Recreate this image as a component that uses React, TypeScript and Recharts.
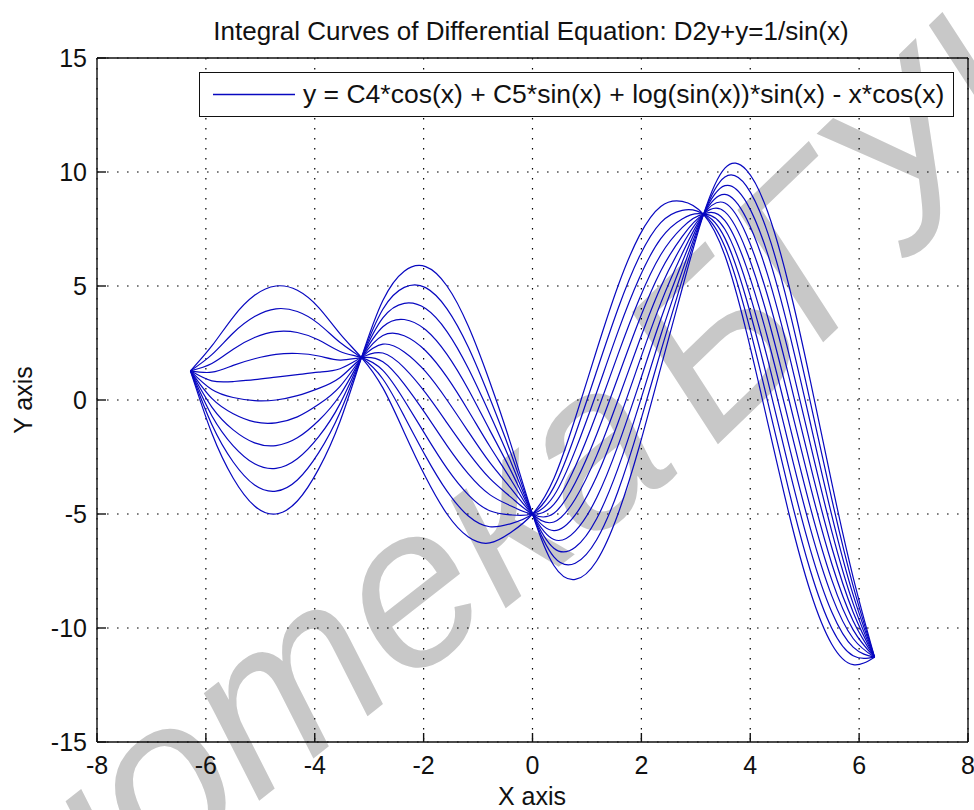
import React from 'react';
import { LineChart, Line, XAxis, YAxis, CartesianGrid, Legend } from 'recharts';

// x positions of the sampled points (multiples of pi/8 from -2pi to 2pi)
const xValues = [
  -6.2832, -5.8905, -5.4978, -5.1051, -4.7124, -4.3197, -3.927, -3.5343, -3.1416,
  -2.7489, -2.3562, -1.9635, -1.5708, -1.1781, -0.7854, -0.3927, 0,
  0.3927, 0.7854, 1.1781, 1.5708, 1.9635, 2.3562, 2.7489, 3.1416,
  3.5343, 3.927, 4.3197, 4.7124, 5.1051, 5.4978, 5.8905, 6.2832,
];

// one integral curve per value of C5 (C4 = -5)
const curveC5m5 = [1.28, -1.46, -3.43, -4.65, -5, -4.43, -3.02, -0.93, 1.86, 4.36, 5.65, 5.85, 5, 3.23, 0.8, -1.98, -5, -7.26, -7.87, -7.06, -5, -2.03, 1.42, 4.88, 8.14, 10.17, 10.09, 8.26, 5, 0.83, -3.64, -7.78, -11.28];
const curveC5m4 = [1.28, -1.08, -2.72, -3.73, -4, -3.51, -2.31, -0.54, 1.86, 3.98, 4.94, 4.93, 4, 2.31, 0.09, -2.36, -5, -6.88, -7.16, -6.13, -4, -1.1, 2.13, 5.26, 8.14, 9.78, 9.39, 7.34, 4, -0.1, -4.35, -8.16, -11.28];
const curveC5m3 = [1.28, -0.69, -2.01, -2.8, -3, -2.58, -1.61, -0.16, 1.86, 3.6, 4.24, 4.01, 3, 1.38, -0.61, -2.74, -5, -6.5, -6.46, -5.21, -3, -0.18, 2.84, 5.64, 8.14, 9.4, 8.68, 6.41, 3, -1.02, -5.06, -8.55, -11.28];
const curveC5m2 = [1.28, -0.31, -1.31, -1.88, -2, -1.66, -0.9, 0.22, 1.86, 3.21, 3.53, 3.08, 2, 0.46, -1.32, -3.12, -5, -6.12, -5.75, -4.29, -2, 0.74, 3.54, 6.03, 8.14, 9.02, 7.97, 5.49, 2, -1.95, -5.76, -8.93, -11.28];
const curveC5m1 = [1.28, 0.07, -0.6, -0.96, -1, -0.74, -0.19, 0.6, 1.86, 2.83, 2.82, 2.16, 1, -0.47, -2.03, -3.51, -5, -5.73, -5.04, -3.36, -1, 1.67, 4.25, 6.41, 8.14, 8.64, 7.26, 4.56, 1, -2.87, -6.47, -9.31, -11.28];
const curveC5p0 = [1.28, 0.46, 0.11, -0.03, 0, 0.19, 0.51, 0.99, 1.86, 2.45, 2.11, 1.24, 0, -1.39, -2.74, -3.89, -5, -5.35, -4.34, -2.44, 0, 2.59, 4.96, 6.79, 8.14, 8.25, 6.56, 3.64, 0, -3.79, -7.18, -9.69, -11.28];
const curveC5p1 = [1.28, 0.84, 0.81, 0.89, 1, 1.11, 1.22, 1.37, 1.86, 2.06, 1.41, 0.31, -1, -2.31, -3.44, -4.27, -5, -4.97, -3.63, -1.51, 1, 3.52, 5.66, 7.17, 8.14, 7.87, 5.85, 2.72, -1, -4.72, -7.89, -10.08, -11.28];
const curveC5p2 = [1.28, 1.22, 1.52, 1.81, 2, 2.04, 1.93, 1.75, 1.86, 1.68, 0.7, -0.61, -2, -3.24, -4.15, -4.65, -5, -4.58, -2.92, -0.59, 2, 4.44, 6.37, 7.56, 8.14, 7.49, 5.14, 1.79, -2, -5.64, -8.59, -10.46, -11.28];
const curveC5p3 = [1.28, 1.6, 2.23, 2.74, 3, 2.96, 2.63, 2.13, 1.86, 1.3, -0.01, -1.54, -3, -4.16, -4.86, -5.04, -5, -4.2, -2.21, 0.33, 3, 5.36, 7.08, 7.94, 8.14, 7.1, 4.44, 0.87, -3, -6.57, -9.3, -10.84, -11.28];
const curveC5p4 = [1.28, 1.99, 2.94, 3.66, 4, 3.88, 3.34, 2.52, 1.86, 0.92, -0.71, -2.46, -4, -5.09, -5.56, -5.42, -5, -3.82, -1.51, 1.26, 4, 6.29, 7.78, 8.32, 8.14, 6.72, 3.73, -0.06, -4, -7.49, -10.01, -11.22, -11.28];
const curveC5p5 = [1.28, 2.37, 3.64, 4.59, 5, 4.81, 4.05, 2.9, 1.86, 0.53, -1.42, -3.38, -5, -6.01, -6.27, -5.8, -5, -3.44, -0.8, 2.18, 5, 7.21, 8.49, 8.71, 8.14, 6.34, 3.02, -0.98, -5, -8.41, -10.71, -11.61, -11.28];

const curves = [curveC5m5, curveC5m4, curveC5m3, curveC5m2, curveC5m1, curveC5p0, curveC5p1, curveC5p2, curveC5p3, curveC5p4, curveC5p5];

const xTicks = [-8, -6, -4, -2, 0, 2, 4, 6, 8];
const yTicks = [-15, -10, -5, 0, 5, 10, 15];

const titleText = 'Integral Curves of Differential Equation: D2y+y=1/sin(x)';
const legendText = 'y = C4*cos(x) + C5*sin(x) + log(sin(x))*sin(x) - x*cos(x)';
const xLabelText = 'X axis';
const yLabelText = 'Y axis';
const watermarkWord1 = 'Библиотека';
const watermarkWord2 = 'БГУИР';

const data = xValues.map((x, i) => {
  const row: Record<string, number> = { x };
  curves.forEach((c, j) => {
    row['c' + j] = c[i];
  });
  return row;
});

const FONT = '"Liberation Sans", Arial, Helvetica, sans-serif';
const LINE_COLOR = '#0808c0';
const TEXT_COLOR = '#111';
const INNER_TICK = 9;

// bottom tick: label below the axis, short tick pointing into the plot
const BottomTick = (props: any) => {
  const { x, y, payload } = props;
  const axisY = y - 14; // tickSize 6 + tickMargin 8
  return (
    <g>
      <line x1={x} x2={x} y1={axisY} y2={axisY - INNER_TICK} stroke={TEXT_COLOR} strokeWidth={1.4} />
      <text x={x} y={y} dy="0.71em" textAnchor="middle" fontSize={25} fill={TEXT_COLOR} fontFamily={FONT}>
        {payload.value}
      </text>
    </g>
  );
};

// left tick: label left of the axis, short tick pointing into the plot
const LeftTick = (props: any) => {
  const { x, y, payload } = props;
  const axisX = x + 10; // tickSize 6 + tickMargin 4
  return (
    <g>
      <line x1={axisX} x2={axisX + INNER_TICK} y1={y} y2={y} stroke={TEXT_COLOR} strokeWidth={1.4} />
      <text x={x} y={y} dy="0.355em" textAnchor="end" fontSize={25} fill={TEXT_COLOR} fontFamily={FONT}>
        {payload.value}
      </text>
    </g>
  );
};

const renderLegend = () => (
  <div
    style={{
      width: 755,
      height: 45,
      boxSizing: 'border-box',
      border: '1.4px solid #111',
      background: '#fff',
      position: 'relative',
      fontFamily: FONT,
    }}
  >
    <svg width={100} height={44} style={{ position: 'absolute', left: 0, top: 0 }}>
      <line x1={13} x2={95} y1={21.5} y2={21.5} stroke={LINE_COLOR} strokeWidth={1.4} />
    </svg>
    <span
      style={{
        position: 'absolute',
        left: 103,
        top: 8,
        fontSize: 26.5,
        lineHeight: '26px',
        whiteSpace: 'pre',
        color: TEXT_COLOR,
      }}
    >
      {legendText}
    </span>
  </div>
);

export default function App() {
  return (
    <div style={{ position: 'absolute', left: 0, top: 0, width: 974, height: 810, background: '#fff', overflow: 'hidden' }}>
      <svg width={974} height={810} style={{ position: 'absolute', left: 0, top: 0 }}>
        <text
          x={685}
          y={468}
          transform="rotate(-38 685 468)"
          textAnchor="end"
          fontSize={225}
          fontStyle="italic"
          fill="#c8c8c8"
          fontFamily={FONT}
        >
          {watermarkWord1}
        </text>
        <text
          x={713}
          y={449}
          transform="rotate(-44 713 449)"
          fontSize={225}
          fontStyle="italic"
          fill="#c8c8c8"
          fontFamily={FONT}
        >
          {watermarkWord2}
        </text>
      </svg>
      <div style={{ position: 'absolute', left: 0, top: 0 }}>
        <LineChart
          width={974}
          height={810}
          data={data}
          margin={{ top: 58, right: 6, bottom: 28, left: 37 }}
          style={{ fontFamily: FONT }}
        >
          <CartesianGrid
            xAxisId="x"
            yAxisId="y"
            stroke="#000"
            strokeDasharray="1.6 8.4"
            strokeWidth={1.2}
          />
          <XAxis
            xAxisId="x"
            dataKey="x"
            type="number"
            domain={[-8, 8]}
            ticks={xTicks}
            allowDataOverflow
            height={40}
            tickLine={false}
            tickSize={6}
            tickMargin={8}
            axisLine={{ stroke: TEXT_COLOR, strokeWidth: 1.4 }}
            tick={<BottomTick />}
            interval={0}
          />
          <XAxis
            xAxisId="xt"
            type="number"
            domain={[-8, 8]}
            ticks={xTicks}
            allowDataOverflow
            orientation="top"
            mirror
            axisLine={{ stroke: TEXT_COLOR, strokeWidth: 1.4 }}
            tickLine={{ stroke: TEXT_COLOR, strokeWidth: 1.4 }}
            tickSize={INNER_TICK}
            tick={false}
            interval={0}
          />
          <YAxis
            yAxisId="y"
            type="number"
            domain={[-15, 15]}
            ticks={yTicks}
            allowDataOverflow
            width={60}
            tickLine={false}
            tickSize={6}
            tickMargin={4}
            axisLine={{ stroke: TEXT_COLOR, strokeWidth: 1.4 }}
            tick={<LeftTick />}
            interval={0}
          />
          <YAxis
            yAxisId="yr"
            type="number"
            domain={[-15, 15]}
            ticks={yTicks}
            allowDataOverflow
            orientation="right"
            mirror
            axisLine={{ stroke: TEXT_COLOR, strokeWidth: 1.4 }}
            tickLine={{ stroke: TEXT_COLOR, strokeWidth: 1.4 }}
            tickSize={INNER_TICK}
            tick={false}
            interval={0}
          />
          <Legend
            layout="vertical"
            align="center"
            verticalAlign="middle"
            content={renderLegend}
            wrapperStyle={{ left: 199, top: 72, width: 755, height: 45 }}
          />
          {curves.map((_, j) => (
            <Line
              key={j}
              xAxisId="x"
              yAxisId="y"
              dataKey={'c' + j}
              type="natural"
              stroke={LINE_COLOR}
              strokeWidth={1.2}
              dot={false}
              activeDot={false}
              isAnimationActive={false}
            />
          ))}
        </LineChart>
      </div>
      <svg width={974} height={810} style={{ position: 'absolute', left: 0, top: 0, pointerEvents: 'none' }}>
        <text x={531} y={40} textAnchor="middle" fontSize={26} fill={TEXT_COLOR} fontFamily={FONT}>
          {titleText}
        </text>
        <text x={532} y={805} textAnchor="middle" fontSize={25} fill={TEXT_COLOR} fontFamily={FONT}>
          {xLabelText}
        </text>
        <text
          transform="translate(32 400) rotate(-90)"
          textAnchor="middle"
          fontSize={25}
          fill={TEXT_COLOR}
          fontFamily={FONT}
        >
          {yLabelText}
        </text>
      </svg>
    </div>
  );
}
